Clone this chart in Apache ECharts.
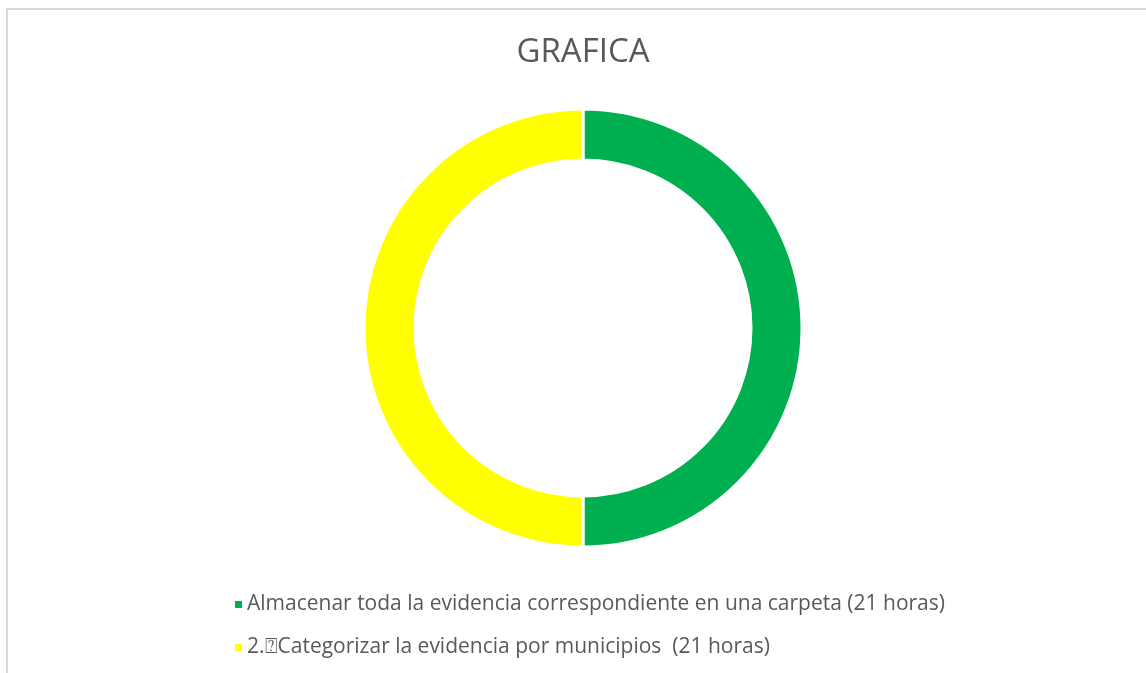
<!DOCTYPE html>
<html>
<head>
<meta charset="utf-8">
<script src="https://cdn.jsdelivr.net/npm/echarts@6/dist/echarts.min.js"></script>
<style>
  html, body { margin: 0; padding: 0; background: #fff; }
  #grafica { width: 1146px; height: 673px; }
</style>
</head>
<body>
<div id="grafica"></div>
<script>
    // datos de la grafica
    let tareas = [
        'Almacenar toda la evidencia correspondiente en una carpeta (21 horas)',
        '2.\u2370Categorizar la evidencia por municipios  (21 horas)'
    ];
    let horas = [21, 21];
    let colores = ['#00B050', '#FFFF00'];

    let datos = tareas.map((t, i) => ({
        name: t,
        value: horas[i],
        itemStyle: {color: colores[i]}
    }));

    let chart = echarts.init(document.getElementById('grafica'));
    chart.setOption({
        animation: false,
        textStyle: {fontFamily: 'Open Sans'},
        graphic: [{
            type: 'rect',
            shape: {x: 7, y: 9, width: 1200, height: 700},
            style: {fill: 'none', stroke: '#d9d9d9', lineWidth: 2},
            silent: true
        }, {
            // titulo centrado sobre la dona
            type: 'text',
            x: 583,
            y: 53,
            style: {
                text: 'GRAFICA',
                fontFamily: 'Open Sans',
                fontSize: 33,
                fill: '#595959',
                align: 'center',
                verticalAlign: 'middle'
            },
            silent: true
        }],
        legend: {
            orient: 'vertical',
            left: 228,
            top: 589,
            icon: 'rect',
            itemWidth: 9,
            itemHeight: 9,
            itemGap: 22,
            data: tareas,
            textStyle: {
                fontFamily: 'Open Sans',
                fontSize: 21,
                color: '#595959',
                padding: [0, 0, 0, -1]
            }
        },
        series: [{
            type: 'pie',
            center: [583, 328],
            radius: [168, 219],
            startAngle: 90,
            label: {show: false},
            labelLine: {show: false},
            emphasis: {disabled: true},
            itemStyle: {borderColor: '#fff', borderWidth: 3},
            data: datos
        }]
    });
</script>
</body>
</html>
